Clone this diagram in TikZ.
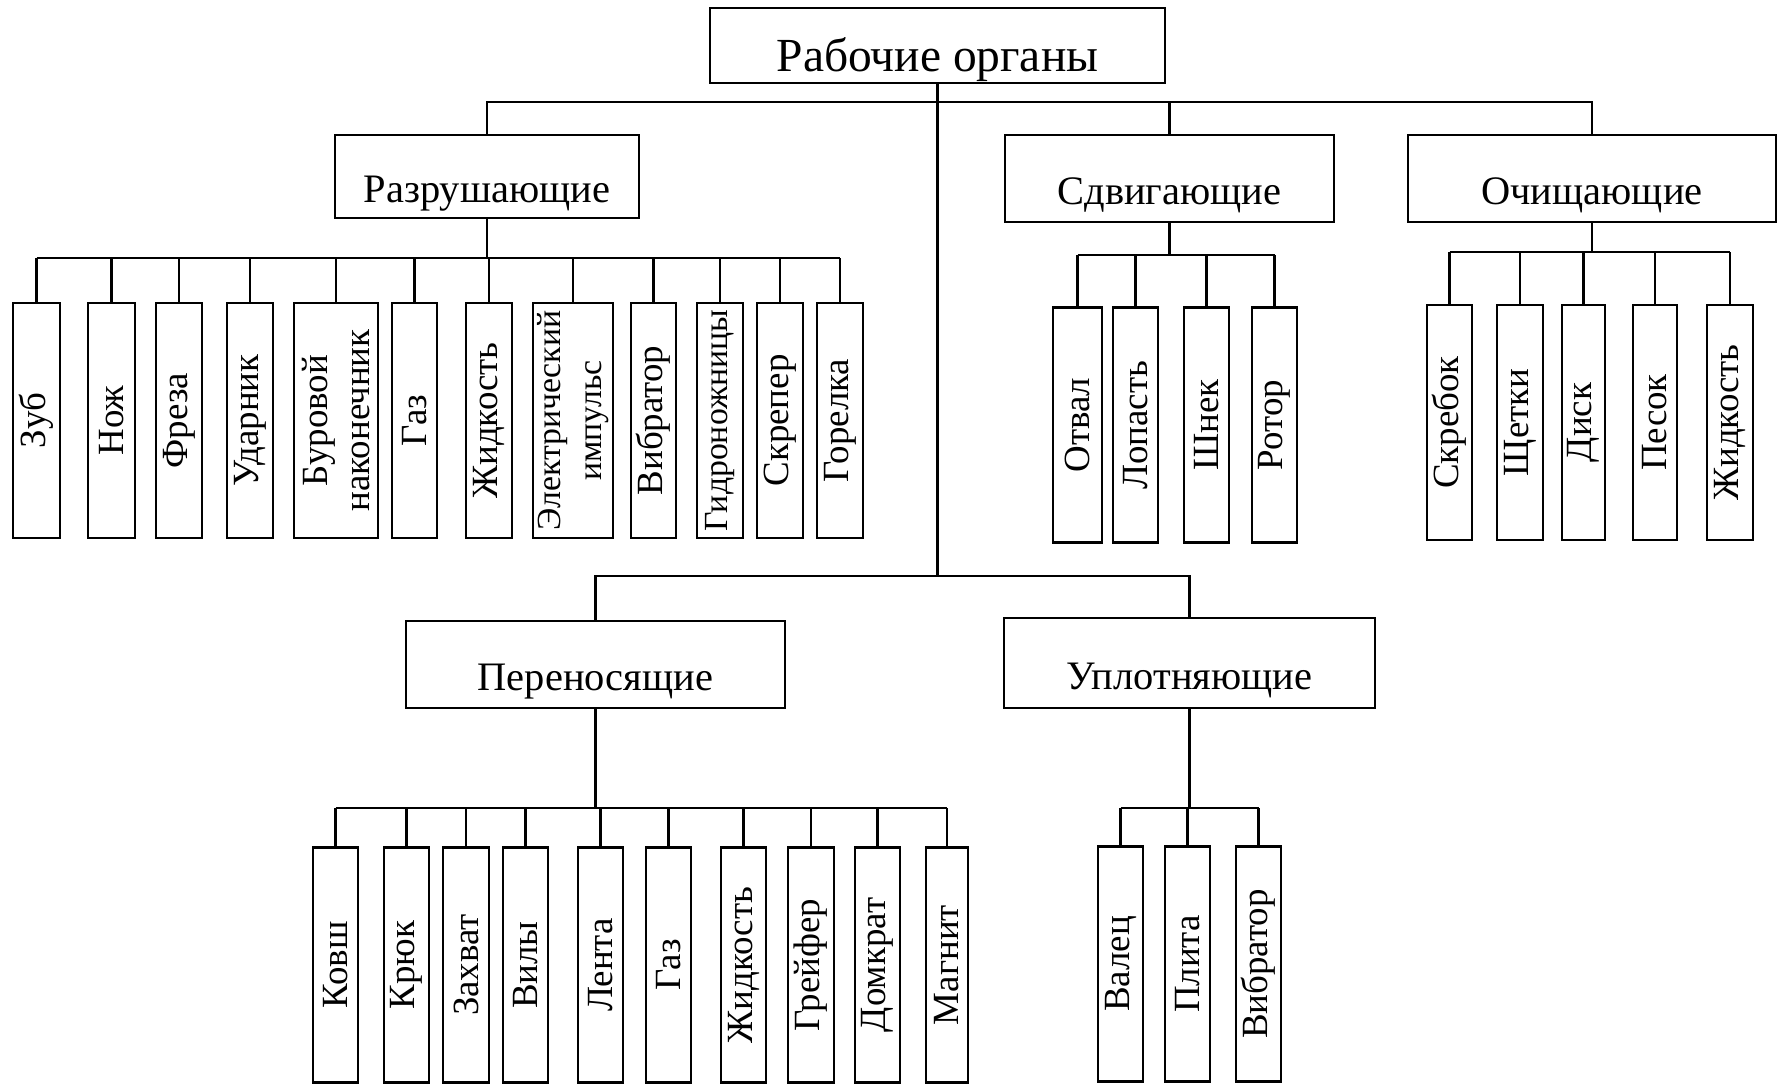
\documentclass[tikz,border=0pt]{standalone}
\usepackage{fontspec}
\setmainfont{Liberation Serif}

\begin{document}
\begin{tikzpicture}[x=0.01cm, y=-0.01cm, line width=0.75pt,
    box/.style={draw, rectangle, inner sep=0pt},
    capt/.style={anchor=base, yshift=-0.26cm, inner sep=0pt, font=\fontsize{11.5}{13}\selectfont},
    leaf/.style={draw, rectangle, inner sep=0pt, minimum height=2.35cm},
    leaftxt/.style={rotate=90, align=center, inner sep=0pt, font=\fontsize{10.5}{12}\selectfont},
    leafnarrow/.style={leaftxt, font=\fontsize{9.6}{11.5}\selectfont}]
    \useasboundingbox (0,0) rectangle (1783,1086);
    \coordinate (topbus) at (0,102);
    \coordinate (lowbus) at (0,576);

    % root and groups
    \node[box, minimum width=4.55cm, minimum height=0.75cm] (root) at (937.5,45.5) {};
    \node[capt, font=\fontsize{13.5}{16}\selectfont] (root t) at (root.center) {Рабочие органы};

    \node[box, minimum width=3.04cm, minimum height=0.83cm] (razr) at (487,176.5) {};
    \node[box, minimum width=3.29cm, minimum height=0.87cm] (sdv) at (1169.5,178.5) {};
    \node[box, minimum width=3.68cm, minimum height=0.87cm] (och) at (1592,178.5) {};
    \node[box, minimum width=3.79cm, minimum height=0.87cm] (per) at (595.5,664.5) {};
    \node[box, minimum width=3.71cm, minimum height=0.90cm] (upl) at (1189.5,663) {};
    \node[capt] (razr t) at (razr.center) {Разрушающие};
    \node[capt] (sdv t) at (sdv.center) {Сдвигающие};
    \node[capt] (och t) at (och.center) {Очищающие};
    \node[capt] (per t) at (per.center) {Переносящие};
    \node[capt] (upl t) at (upl.center) {Уплотняющие};

    \draw (root.south) -- (root.south |- lowbus);
    \draw (razr.north) -- (razr.north |- topbus) -- (och.north |- topbus) -- (och.north);
    \draw (sdv.north) -- (sdv.north |- topbus);
    \draw (per.north) -- (per.north |- lowbus) -- (upl.north |- lowbus) -- (upl.north);

    %---------------------------------------------------------------%
    \coordinate (abus) at (0,258);
    \foreach \i/\x/\w/\st/\lbl in {1/36.5/47/leaftxt/Зуб, 2/111.5/47/leaftxt/Нож, 3/179/46/leaftxt/Фреза,
        4/250/46/leaftxt/Ударник, 5/336/84/leaftxt/{Буровой\\наконечник}, 6/414.5/45/leaftxt/Газ,
        7/489/46/leaftxt/Жидкость, 8/573/80/leafnarrow/{Электрический\\импульс}, 9/653.5/45/leaftxt/Вибратор,
        10/720/46/leafnarrow/Гидроножницы, 11/780/46/leaftxt/Скрепер, 12/840/46/leaftxt/Горелка}{
        \node[leaf, minimum width=\w*0.01cm] (a\i) at (\x,420.5) {};
        \node[\st] (a\i t) at (a\i.center) {\lbl};
        \draw (a\i.north) -- (a\i.north |- abus);
    }
    \draw (a1.north |- abus) -- (a12.north |- abus);
    \draw (razr.south) -- (razr.south |- abus);
    %---------------------------------------------------------------%
    \coordinate (bbus) at (0,255);
    \foreach \i/\x/\w/\lbl in {1/1077.5/49/Отвал, 2/1135.5/45/Лопасть, 3/1206.5/45/Шнек, 4/1274.5/45/Ротор}{
        \node[leaf, minimum width=\w*0.01cm] (b\i) at (\x,425) {};
        \node[leaftxt] (b\i t) at (b\i.center) {\lbl};
        \draw (b\i.north) -- (b\i.north |- bbus);
    }
    \draw (b1.north |- bbus) -- (b4.north |- bbus);
    \draw (sdv.south) -- (sdv.south |- bbus);
    %---------------------------------------------------------------%
    \coordinate (cbus) at (0,252);
    \foreach \i/\x/\w/\lbl in {1/1449.5/45/Скребок, 2/1520/46/Щетки, 3/1583.5/43/Диск, 4/1655/44/Песок, 5/1730/46/Жидкость}{
        \node[leaf, minimum width=\w*0.01cm] (c\i) at (\x,422.5) {};
        \node[leaftxt] (c\i t) at (c\i.center) {\lbl};
        \draw (c\i.north) -- (c\i.north |- cbus);
    }
    \draw (c1.north |- cbus) -- (c5.north |- cbus);
    \draw (och.south) -- (och.south |- cbus);
    %---------------------------------------------------------------%
    \coordinate (dbus) at (0,808);
    \foreach \i/\x/\w/\lbl in {1/335.5/45/Ковш, 2/406.5/45/Крюк, 3/466/46/Захват, 4/525.5/45/Вилы, 5/600.5/45/Лента,
        6/668.5/45/Газ, 7/743.5/45/Жидкость, 8/811/46/Грейфер, 9/877.5/45/Домкрат, 10/947/42/Магнит}{
        \node[leaf, minimum width=\w*0.01cm] (d\i) at (\x,965) {};
        \node[leaftxt] (d\i t) at (d\i.center) {\lbl};
        \draw (d\i.north) -- (d\i.north |- dbus);
    }
    \draw (d1.north |- dbus) -- (d10.north |- dbus);
    \draw (per.south) -- (per.south |- dbus);
    %---------------------------------------------------------------%
    \coordinate (ebus) at (0,808);
    \foreach \i/\x/\w/\lbl in {1/1120.5/45/Валец, 2/1187.5/45/Плита, 3/1258.5/45/Вибратор}{
        \node[leaf, minimum width=\w*0.01cm] (e\i) at (\x,964) {};
        \node[leaftxt] (e\i t) at (e\i.center) {\lbl};
        \draw (e\i.north) -- (e\i.north |- ebus);
    }
    \draw (e1.north |- ebus) -- (e3.north |- ebus);
    \draw (upl.south) -- (upl.south |- ebus);
\end{tikzpicture}
\end{document}
